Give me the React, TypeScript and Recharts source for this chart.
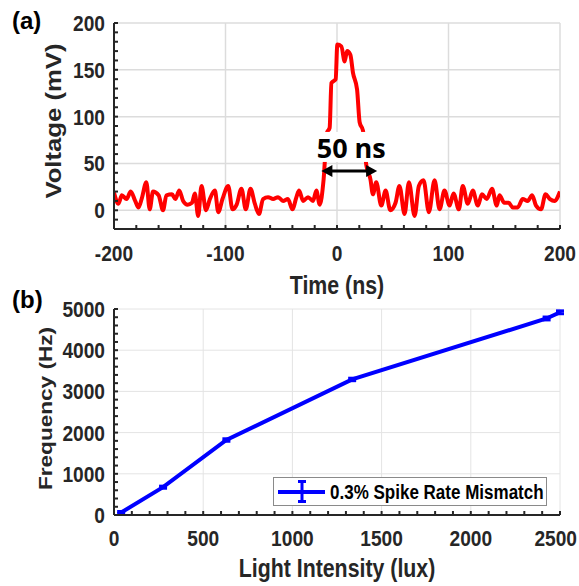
import { LineChart, Line, XAxis, YAxis, ReferenceLine, ErrorBar, Legend, Label } from 'recharts';

// (a) voltage pulse
const timeNs = [
  -200, -196, -193, -188.7, -185, -181, -178, -175, -171, -168, -165, -160, -156, -153, -148, -145, -141.5, -138,
  -134, -130, -127.5, -124.5, -121.5, -117.5, -114, -109.5, -106.5, -102.7, -97.6, -93.7, -90, -85.7, -81.8, -77.6,
  -73.7, -70, -66.3, -61.8, -57.3, -52.8, -48.4, -44, -40, -36.4, -34, -30.4, -26, -21.5, -18.5, -15.5, -12, -9,
  -6.6, -5, -1.2, 0.3, 3.9, 6.9, 9, 12, 14.3, 18, 20.3, 23.3, 26.3, 30, 32.2, 35.2, 39.7, 43.6, 47.8, 52.5, 56,
  60.6, 64.5, 69.6, 73.4, 77.6, 82.4, 87.5, 92, 96.4, 101, 104.5, 109.3, 112.8, 117.3, 121.8, 126.3, 130, 134.3,
  139, 143.3, 145.7, 150, 154, 157.6, 162, 166.6, 171, 175, 178.5, 183, 187, 191, 195, 200,
];
const voltageMv = [
  19, 7, 16, 12, 20, 10, 3, 13, 30, 1, 20, 16, 0, 16, 17, 12, 21, 10,
  6, 8, 18, -6, 26, 0, 12, 21, -2, 12, 26, 1, 6, 23, 1, 23,
  7, -4, 12, 14, 12, 14, 10, 12, 1, 14, 21, 10, 14, 10, 21, 6, 33, 83,
  88, 136, 140, 177, 175, 159, 170, 166, 147, 129, 94, 85, 48, 33, 17, 30, 5, 21, 0, 8, 26,
  -4, 30, -6, 26, 32, -2, 32, 1, 21, 5, 18, 1, 26, 7, 21, 5, 17, 12,
  23, 5, 16, 8, 8, 3, 3, 12, 10, 16, 5, 1, 17, 12, 10, 20,
];
const timeMajor = [-200, -100, 0, 100, 200];
const timeMinor = [-200, -180, -160, -140, -120, -100, -80, -60, -40, -20, 0, 20, 40, 60, 80, 100, 120, 140, 160, 180, 200];
const voltMajor = [0, 50, 100, 150, 200];
const voltMinor = [-20, -10, 0, 10, 20, 30, 40, 50, 60, 70, 80, 90, 100, 110, 120, 130, 140, 150, 160, 170, 180, 190, 200];
const widthStart = { t: -14, v: 42 };
const widthEnd = { t: 36, v: 42 };

// (b) frequency vs light intensity
const luxValues = [40, 275, 630, 1335, 2425, 2500];
const freqHz = [60, 675, 1820, 3290, 4770, 4920];
const freqErr = [25, 25, 30, 30, 35, 35];
const luxMajor = [0, 500, 1000, 1500, 2000, 2500];
const luxMinor = [0, 100, 200, 300, 400, 500, 600, 700, 800, 900, 1000, 1100, 1200, 1300, 1400, 1500, 1600, 1700, 1800, 1900, 2000, 2100, 2200, 2300, 2400, 2500];
const freqMajor = [0, 1000, 2000, 3000, 4000, 5000];
const freqMinor = [0, 200, 400, 600, 800, 1000, 1200, 1400, 1600, 1800, 2000, 2200, 2400, 2600, 2800, 3000, 3200, 3400, 3600, 3800, 4000, 4200, 4400, 4600, 4800, 5000];

const pulseData = timeNs.map((t, i) => ({ t, v: voltageMv[i] }));
const freqData = luxValues.map((lux, i) => ({ lux, f: freqHz[i], err: freqErr[i] }));

const AXIS = '#262626';
const FONT = '"Liberation Sans", Arial, sans-serif';
const SQ = 0.83; // figure was squeezed horizontally
const TSQ = 0.87;

const xTick = (majors: number[]) => (props: any) => {
  const { x, y, payload } = props;
  if (!majors.includes(payload.value)) return <g />;
  // keep a label at the right edge inside the page, like the original
  const half = (String(payload.value).length * 0.556 * 22 * TSQ) / 2;
  const cx = Math.min(x, 577 - half);
  return (
    <text transform={`translate(${cx},${y}) scale(${TSQ},1)`} textAnchor="middle" dy="0.72em"
      fontFamily={FONT} fontWeight="bold" fontSize={22} fill={AXIS}>{payload.value}</text>
  );
};

const yTick = (majors: number[]) => (props: any) => {
  const { x, y, payload } = props;
  if (!majors.includes(payload.value)) return <g />;
  return (
    <text transform={`translate(${x},${y}) scale(${TSQ},1)`} textAnchor="end" dy="0.36em"
      fontFamily={FONT} fontWeight="bold" fontSize={22} fill={AXIS}>{payload.value}</text>
  );
};

const xTitle = (text: string, base: number) => (props: any) => {
  const vb = props.viewBox;
  return (
    <text transform={`translate(${vb.x + vb.width / 2},${vb.y + base}) scale(${SQ},1)`} textAnchor="middle"
      fontFamily={FONT} fontWeight="bold" fontSize={25.7} fill={AXIS}>{text}</text>
  );
};

const yTitle = (text: string, bx: number, cy: number, size: number) => () => (
  <text transform={`translate(${bx},${cy}) scale(${SQ},1) rotate(-90)`} textAnchor="middle"
    fontFamily={FONT} fontWeight="bold" fontSize={size} fill={AXIS}>{text}</text>
);

const WidthArrow = (props: any) => {
  const { x1, y1, x2, y2 } = props;
  const cx = (x1 + x2) / 2 + 2;
  return (
    <g>
      <rect x={cx - 35} y={y1 - 39} width={70} height={30} fill="#fff" />
      <text x={cx} y={y1 - 12.5} textAnchor="middle" fontFamily='"Open Sans", sans-serif' fontWeight={700}
        fontSize={27} fill="#000">50 ns</text>
      <line x1={x1 + 8} y1={y1} x2={x2 - 8} y2={y2} stroke="#000" strokeWidth={3} />
      <polygon points={`${x1},${y1} ${x1 + 11},${y1 - 6} ${x1 + 11},${y1 + 6}`} fill="#000" />
      <polygon points={`${x2},${y2} ${x2 - 11},${y2 - 6} ${x2 - 11},${y2 + 6}`} fill="#000" />
    </g>
  );
};

const LegendBox = () => (
  <svg width={274} height={29} style={{ display: 'block' }}>
    <rect x={0.5} y={0.5} width={273} height={28} fill="#fff" stroke="#8a8a8a" strokeWidth={1} />
    <line x1={5} y1={15} x2={52} y2={15} stroke="#0000ff" strokeWidth={4} />
    <line x1={29} y1={4} x2={29} y2={25} stroke="#0000ff" strokeWidth={3} />
    <line x1={25} y1={4.5} x2={33} y2={4.5} stroke="#0000ff" strokeWidth={3} />
    <line x1={25} y1={24.5} x2={33} y2={24.5} stroke="#0000ff" strokeWidth={3} />
    <text transform={`translate(57,22) scale(${SQ},1)`} fontFamily={FONT} fontWeight="bold" fontSize={20.5}
      fill="#000">0.3% Spike Rate Mismatch</text>
  </svg>
);

const panelLabel = (top: number): React.CSSProperties => ({
  position: 'absolute', left: 12, top, fontFamily: FONT, fontWeight: 'bold', fontSize: 24, lineHeight: 1, color: '#000',
});

export default function App() {
  return (
    <div style={{ position: 'absolute', left: 0, top: 0, width: 579, height: 586, background: '#fff', overflow: 'hidden' }}>
      <div style={{ position: 'absolute', left: 0, top: 0 }}>
        <LineChart width={579} height={305} data={pulseData} margin={{ top: 23, right: 19, bottom: 0, left: 0 }}>
          {timeMajor.map((v) => (
            <ReferenceLine key={'gx' + v} x={v} stroke="#dcdcdc" strokeWidth={1.5} />
          ))}
          {voltMajor.map((v) => (
            <ReferenceLine key={'gy' + v} y={v} stroke="#dcdcdc" strokeWidth={1.5} />
          ))}
          <Line type="monotone" dataKey="v" stroke="#ff0000" strokeWidth={4} dot={false} isAnimationActive={false} />
          <ReferenceLine segment={[{ x: widthStart.t, y: widthStart.v }, { x: widthEnd.t, y: widthEnd.v }]} shape={WidthArrow} />
          <XAxis dataKey="t" type="number" domain={[-200, 200]} ticks={timeMinor} interval={0} allowDataOverflow
            height={76} tickSize={-4} tickMargin={20} tick={xTick(timeMajor)} stroke={AXIS} strokeWidth={2}>
            <Label content={xTitle('Time (ns)', 65.4)} />
          </XAxis>
          <XAxis xAxisId="top" orientation="top" type="number" domain={[-200, 200]} ticks={timeMinor} interval={0}
            allowDataOverflow height={0} tickSize={-4} tick={false} stroke={AXIS} strokeWidth={2} />
          <YAxis type="number" domain={[-20, 200]} ticks={voltMinor} interval={0} allowDataOverflow width={114}
            tickSize={-4} tickMargin={13} tick={yTick(voltMajor)} stroke={AXIS} strokeWidth={2}>
            <Label content={yTitle('Voltage (mV)', 60.5, 121, 25.7)} />
          </YAxis>
          <YAxis yAxisId="right" orientation="right" type="number" domain={[-20, 200]} ticks={voltMinor} interval={0}
            allowDataOverflow width={0} tickSize={-4} tick={false} stroke={AXIS} strokeWidth={2} />
        </LineChart>
      </div>
      <div style={{ position: 'absolute', left: 0, top: 290 }}>
        <LineChart width={579} height={296} data={freqData} margin={{ top: 19, right: 19, bottom: 0, left: 0 }}>
          {luxMajor.map((v) => (
            <ReferenceLine key={'gx' + v} x={v} stroke="#e4e4e4" strokeWidth={1} />
          ))}
          {freqMajor.map((v) => (
            <ReferenceLine key={'gy' + v} y={v} stroke="#e4e4e4" strokeWidth={1} />
          ))}
          <Line type="linear" dataKey="f" stroke="#0000ff" strokeWidth={4} dot={false} isAnimationActive={false}>
            <ErrorBar dataKey="err" direction="y" width={4} strokeWidth={3} stroke="#0000ff" isAnimationActive={false} />
          </Line>
          <XAxis dataKey="lux" type="number" domain={[0, 2500]} ticks={luxMinor} interval={0} allowDataOverflow
            height={71} tickSize={-4} tickMargin={19} tick={xTick(luxMajor)} stroke={AXIS} strokeWidth={2}>
            <Label content={xTitle('Light Intensity (lux)', 62.4)} />
          </XAxis>
          <XAxis xAxisId="top" orientation="top" type="number" domain={[0, 2500]} ticks={luxMinor} interval={0}
            allowDataOverflow height={0} tickSize={-4} tick={false} stroke={AXIS} strokeWidth={2} />
          <YAxis type="number" domain={[0, 5000]} ticks={freqMinor} interval={0} allowDataOverflow width={114}
            tickSize={-4} tickMargin={13} tick={yTick(freqMajor)} stroke={AXIS} strokeWidth={2}>
            <Label content={yTitle('Frequency (Hz)', 52, 118.5, 22.6)} />
          </YAxis>
          <YAxis yAxisId="right" orientation="right" type="number" domain={[0, 5000]} ticks={freqMinor} interval={0}
            allowDataOverflow width={0} tickSize={-4} tick={false} stroke={AXIS} strokeWidth={2} />
          <Legend layout="horizontal" verticalAlign="middle" align="center" content={LegendBox}
            wrapperStyle={{ left: 273, top: 187, width: 274, height: 29 }} />
        </LineChart>
      </div>
      <div style={panelLabel(9)}>(a)</div>
      <div style={panelLabel(288)}>(b)</div>
    </div>
  );
}
